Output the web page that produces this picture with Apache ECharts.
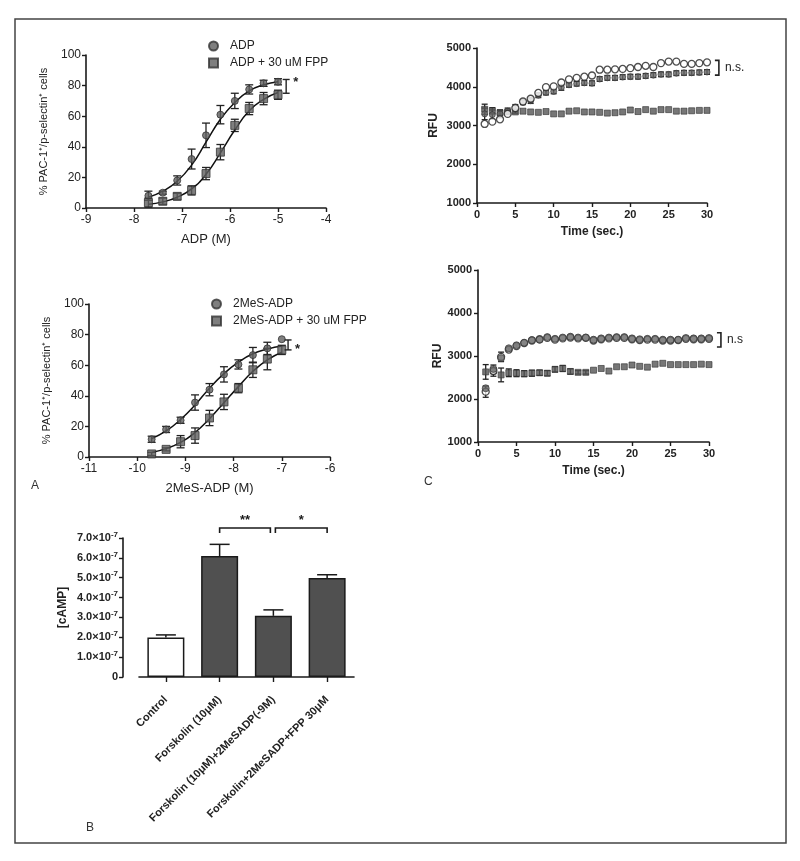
<!DOCTYPE html>
<html><head><meta charset="utf-8">
<script src="https://cdn.jsdelivr.net/npm/echarts@6/dist/echarts.min.js"></script>
<style>html,body{margin:0;padding:0;background:#fff}#c{width:800px;height:861px}</style>
</head><body><div id="c"></div>
<script>
const FONT = '"Liberation Sans", Arial, Helvetica, sans-serif';

// ---- Panel A (top): ADP dose-response ----
const adpLogConc = [-7.7, -7.4, -7.1, -6.8, -6.5, -6.2, -5.9, -5.6, -5.3, -5.0];
const adpMean    = [8, 10, 18, 32, 47.5, 61, 70, 77.5, 81.5, 82.5];
const adpSem     = [3, 1, 3, 6.5, 8, 6, 5, 3, 2, 2];
const adpFit     = [7, 11, 17.5, 28, 43, 58, 69, 76.5, 80.5, 82.5];      // fitted curve
const adpFppMean = [3.5, 4.4, 7.6, 11.5, 22.5, 36.5, 54, 65, 71.5, 74];
const adpFppSem  = [3, 2, 2, 3, 4, 5, 4, 4, 4, 3];
const adpFppFit  = [2.5, 4, 7, 12.5, 22, 36, 51, 63.5, 71, 75.5];
const adpXTicks  = [-9, -4, 1];
const pctYTicks  = [0, 100, 20];

// ---- Panel A (bottom): 2MeS-ADP dose-response ----
const mesLogConc = [-9.7, -9.4, -9.1, -8.8, -8.5, -8.2, -7.9, -7.6, -7.3, -7.0];
const mesMean    = [11.6, 18, 24, 35.6, 44, 54, 60.5, 66.6, 71, 77];
const mesSem     = [2, 2, 2, 5, 4, 5, 3, 5, 4, 0];
const mesFit     = [12, 17, 24.5, 34, 45, 54.5, 62, 67.5, 70.5, 72.5];
const mesFppMean = [2, 5, 10, 14, 25.5, 36, 45, 57, 64, 70];
const mesFppSem  = [1, 1, 4, 5, 5, 5, 3, 5, 7, 3];
const mesFppFit  = [3, 5.5, 9.5, 16, 25, 35.5, 46, 56, 63.5, 68.5];
const mesXTicks  = [-11, -6, 1];

// ---- Panel B: cAMP ----
const campCategories = ['Control', 'Forskolin (10μM)', 'Forskolin (10μM)+2MeSADP(-9M)', 'Forskolin+2MeSADP+FPP 30μM'];
const campMean = [1.99e-7, 6.09e-7, 3.08e-7, 4.98e-7];
const campSem  = [0.13e-7, 0.59e-7, 0.30e-7, 0.17e-7];
const campSig  = ['**', '*'];

// ---- Panel C: RFU time courses ----
const timeSec = [1,2,3,4,5,6,7,8,9,10,11,12,13,14,15,16,17,18,19,20,21,22,23,24,25,26,27,28,29,30];
const c1Open = [3040,3100,3160,3300,3450,3620,3690,3840,3990,4010,4110,4190,4230,4260,4290,4440,4440,4450,4460,4480,4510,4540,4510,4610,4650,4650,4590,4590,4610,4630];
const c1Fill = [3300,3280,3300,3370,3480,3600,3640,3780,3850,3880,3980,4050,4080,4100,4090,4200,4230,4230,4250,4260,4260,4280,4300,4320,4320,4350,4360,4360,4370,4380];
const c1FillSem = [150,120,100,80,60,60,70,60,60,60,70,60,60,60,60,60,60,60,60,60,60,60,60,60,60,60,60,60,60,60];
const c1Sq = [3420,3380,3330,3350,3350,3370,3350,3340,3360,3300,3300,3370,3380,3350,3350,3340,3320,3330,3350,3400,3360,3410,3370,3410,3410,3370,3370,3380,3390,3390];
const c1SqSem = [130,80,60,40,30,0,0,0,0,0,0,0,0,0,0,0,0,0,0,0,0,0,0,0,0,0,0,0,0,0];

const c2Fill = [2250,2700,2950,3180,3250,3310,3370,3380,3440,3400,3430,3450,3430,3430,3380,3410,3430,3440,3440,3410,3390,3400,3400,3380,3380,3380,3420,3410,3410,3420];
const c2Open = [2170,2650,2980,3150,3230,3300,3360,3390,3420,3380,3410,3430,3410,3420,3360,3390,3410,3420,3420,3390,3370,3380,3380,3360,3360,3370,3400,3390,3390,3400];
const c2OpenSem = [130,60,110,40,30,0,0,0,0,0,0,0,0,0,0,0,0,0,0,0,0,0,0,0,0,0,0,0,0,0];
const c2Sq = [2630,2660,2560,2610,2600,2590,2600,2610,2600,2690,2710,2640,2620,2620,2670,2710,2650,2750,2750,2790,2760,2740,2810,2830,2800,2800,2800,2800,2810,2800];
const c2SqSem = [170,130,160,90,80,70,70,60,60,60,70,60,40,40,0,0,0,0,0,0,0,0,0,0,0,0,0,0,0,0];
const rfuYTicks = [1000, 5000, 1000];
const timeXTicks = [0, 30, 5];

// ---------------- helpers ----------------
function pairs(xs, ys) { return xs.map((x, i) => [x, ys[i]]); }
function errData(xs, ys, es) { return xs.map((x, i) => [x, ys[i] - es[i], ys[i] + es[i]]); }
function errRender(cap, color, lw) {
  return function (params, api) {
    const x = api.value(0), lo = api.value(1), hi = api.value(2);
    if (!(hi > lo)) return null;
    const p1 = api.coord([x, lo]), p2 = api.coord([x, hi]);
    const s = { stroke: color || '#222', lineWidth: lw || 1.2 };
    return { type: 'group', children: [
      { type: 'line', shape: { x1: p1[0], y1: p1[1], x2: p2[0], y2: p2[1] }, style: s },
      { type: 'line', shape: { x1: p1[0] - cap, y1: p1[1], x2: p1[0] + cap, y2: p1[1] }, style: s },
      { type: 'line', shape: { x1: p2[0] - cap, y1: p2[1], x2: p2[0] + cap, y2: p2[1] }, style: s }
    ]};
  };
}
function errSeries(gi, data, cap, z) {
  return { type: 'custom', xAxisIndex: gi, yAxisIndex: gi, data: data, renderItem: errRender(cap, '#222', 1.3),
    encode: { x: 0, y: [1, 2] }, z: z || 3, silent: true, clip: false };
}
function sigISeries(gi, x, lo, hi, text, textDy) {
  return { type: 'custom', xAxisIndex: gi, yAxisIndex: gi, data: [[x, lo, hi]], silent: true, clip: false, z: 5,
    encode: { x: 0, y: [1, 2] },
    renderItem: function (params, api) {
      const p1 = api.coord([api.value(0), api.value(1)]), p2 = api.coord([api.value(0), api.value(2)]);
      const s = { stroke: '#222', lineWidth: 1.4 };
      return { type: 'group', children: [
        { type: 'line', shape: { x1: p1[0], y1: p1[1], x2: p2[0], y2: p2[1] }, style: s },
        { type: 'line', shape: { x1: p1[0] - 3.5, y1: p1[1], x2: p1[0] + 3.5, y2: p1[1] }, style: s },
        { type: 'line', shape: { x1: p2[0] - 3.5, y1: p2[1], x2: p2[0] + 3.5, y2: p2[1] }, style: s },
        { type: 'text', style: { text: text, x: p2[0] + 7, y: p2[1] + textDy, fill: '#222', font: 'bold 13px ' + FONT, textVerticalAlign: 'middle' } }
      ]};
    } };
}
function nsSeries(gi, x, lo, hi, text) {
  return { type: 'custom', xAxisIndex: gi, yAxisIndex: gi, data: [[x, lo, hi]], silent: true, clip: false, z: 5,
    encode: { x: 0, y: [1, 2] },
    renderItem: function (params, api) {
      const p1 = api.coord([api.value(0), api.value(1)]), p2 = api.coord([api.value(0), api.value(2)]);
      const s = { stroke: '#222', lineWidth: 1.6 };
      return { type: 'group', children: [
        { type: 'polyline', shape: { points: [[p1[0] - 4, p1[1]], [p1[0], p1[1]], [p2[0], p2[1]], [p2[0] - 4, p2[1]]] }, style: Object.assign({ fill: null }, s) },
        { type: 'text', style: { text: text, x: p1[0] + 6, y: (p1[1] + p2[1]) / 2, fill: '#222', font: '12px ' + FONT, textVerticalAlign: 'middle' } }
      ]};
    } };
}

const axisLineStyle = { show: true, lineStyle: { color: '#1a1a1a', width: 1.6 } };
const tickStyle = { show: true, length: 4, lineStyle: { color: '#1a1a1a', width: 1.4 } };
const plain = v => String(v);

function valAxis(gi, ticks, extra) {
  return Object.assign({ type: 'value', gridIndex: gi, min: ticks[0], max: ticks[1], interval: ticks[2],
    axisLine: axisLineStyle, axisTick: tickStyle, splitLine: { show: false } }, extra);
}

const markerA = { color: '#5f5f5f', borderColor: '#333', borderWidth: 1 };
function fitLine(gi, xs, ys) {
  return { type: 'line', xAxisIndex: gi, yAxisIndex: gi, data: pairs(xs, ys), smooth: 0.5, symbol: 'none',
    lineStyle: { color: '#111', width: 1.5 }, z: 3, silent: true };
}

const option = {
  animation: false,
  backgroundColor: '#fff',
  textStyle: { fontFamily: FONT },
  grid: [
    { left: 86, top: 55, width: 240, height: 153 },
    { left: 89, top: 304, width: 241, height: 153 },
    { left: 139, top: 538, width: 215, height: 139 },
    { left: 477, top: 48, width: 230, height: 155 },
    { left: 478, top: 270, width: 231, height: 172 }
  ],
  legend: [
    { orient: 'vertical', left: 203, top: 35, itemWidth: 9, itemHeight: 9, itemGap: 5, selectedMode: false,
      textStyle: { fontSize: 12, color: '#222', fontFamily: FONT, padding: [0, 0, 0, 7] },
      data: [{ name: 'ADP', icon: 'circle' }, { name: 'ADP + 30 uM FPP', icon: 'rect' }] },
    { orient: 'vertical', left: 206, top: 293, itemWidth: 9, itemHeight: 9, itemGap: 5, selectedMode: false,
      textStyle: { fontSize: 12, color: '#222', fontFamily: FONT, padding: [0, 0, 0, 7] },
      data: [{ name: '2MeS-ADP', icon: 'circle' }, { name: '2MeS-ADP + 30 uM FPP', icon: 'rect' }] }
  ],
  xAxis: [
    valAxis(0, adpXTicks, { name: 'ADP (M)', nameLocation: 'middle', nameGap: 25,
      nameTextStyle: { fontSize: 13, color: '#222' }, axisLabel: { fontSize: 12, color: '#222', margin: 6 } }),
    valAxis(1, mesXTicks, { name: '2MeS-ADP (M)', nameLocation: 'middle', nameGap: 25,
      nameTextStyle: { fontSize: 13, color: '#222' }, axisLabel: { fontSize: 12, color: '#222', margin: 6 } }),
    { type: 'category', gridIndex: 2, data: campCategories, offset: 14,
      axisLine: axisLineStyle, axisTick: { show: true, alignWithLabel: true, length: 5, lineStyle: { color: '#1a1a1a', width: 1.4 } },
      axisLabel: { rotate: 45, interval: 0, fontSize: 11, fontWeight: 'bold', color: '#222', margin: 7 } },
    valAxis(3, timeXTicks, { name: 'Time (sec.)', nameLocation: 'middle', nameGap: 23,
      nameTextStyle: { fontSize: 12, fontWeight: 'bold', color: '#222' }, axisLabel: { fontSize: 11, fontWeight: 'bold', color: '#222', margin: 6 } }),
    valAxis(4, timeXTicks, { name: 'Time (sec.)', nameLocation: 'middle', nameGap: 23,
      nameTextStyle: { fontSize: 12, fontWeight: 'bold', color: '#222' }, axisLabel: { fontSize: 11, fontWeight: 'bold', color: '#222', margin: 6 } })
  ],
  yAxis: [
    valAxis(0, pctYTicks, { name: '% PAC-1⁺/p-selectin⁺ cells', nameLocation: 'middle', nameGap: 37,
      nameTextStyle: { fontSize: 11, color: '#222' }, axisLabel: { fontSize: 12, color: '#222', margin: 5 } }),
    valAxis(1, pctYTicks, { name: '% PAC-1⁺/p-selectin⁺ cells', nameLocation: 'middle', nameGap: 37,
      nameTextStyle: { fontSize: 11, color: '#222' }, axisLabel: { fontSize: 12, color: '#222', margin: 5 } }),
    { type: 'value', gridIndex: 2, min: 0, max: 7e-7, interval: 1e-7, offset: 16,
      axisLine: axisLineStyle, axisTick: tickStyle, splitLine: { show: false },
      name: '[cAMP]', nameLocation: 'middle', nameGap: 54, nameTextStyle: { fontSize: 12, fontWeight: 'bold', color: '#222' },
      axisLabel: { margin: 5, color: '#222',
        formatter: function (v) { return v === 0 ? '{n|0}' : '{n|' + (v / 1e-7).toFixed(1) + '×10}{s|-7}'; },
        rich: { n: { fontSize: 11, fontWeight: 'bold', color: '#222', fontFamily: FONT },
                s: { fontSize: 8, fontWeight: 'bold', color: '#222', fontFamily: FONT, padding: [0, 0, 7, 0] } } } },
    valAxis(3, rfuYTicks, { name: 'RFU', nameLocation: 'middle', nameGap: 37,
      nameTextStyle: { fontSize: 12, fontWeight: 'bold', color: '#222' }, axisLabel: { fontSize: 11, fontWeight: 'bold', color: '#222', margin: 6, formatter: plain } }),
    valAxis(4, rfuYTicks, { name: 'RFU', nameLocation: 'middle', nameGap: 33,
      nameTextStyle: { fontSize: 12, fontWeight: 'bold', color: '#222' }, axisLabel: { fontSize: 11, fontWeight: 'bold', color: '#222', margin: 6, formatter: plain } })
  ],
  series: [
    // A top
    fitLine(0, adpLogConc, adpFit),
    fitLine(0, adpLogConc, adpFppFit),
    errSeries(0, errData(adpLogConc, adpMean, adpSem), 4),
    errSeries(0, errData(adpLogConc, adpFppMean, adpFppSem), 4),
    { name: 'ADP', type: 'scatter', xAxisIndex: 0, yAxisIndex: 0, data: pairs(adpLogConc, adpMean),
      symbol: 'circle', symbolSize: 7, itemStyle: markerA, z: 4 },
    { name: 'ADP + 30 uM FPP', type: 'scatter', xAxisIndex: 0, yAxisIndex: 0, data: pairs(adpLogConc, adpFppMean),
      symbol: 'rect', symbolSize: 8, itemStyle: markerA, z: 4 },
    sigISeries(0, -4.83, 75, 84, '*', 3),
    // A bottom
    fitLine(1, mesLogConc, mesFit),
    fitLine(1, mesLogConc, mesFppFit),
    errSeries(1, errData(mesLogConc, mesMean, mesSem), 4),
    errSeries(1, errData(mesLogConc, mesFppMean, mesFppSem), 4),
    { name: '2MeS-ADP', type: 'scatter', xAxisIndex: 1, yAxisIndex: 1, data: pairs(mesLogConc, mesMean),
      symbol: 'circle', symbolSize: 7, itemStyle: markerA, z: 4 },
    { name: '2MeS-ADP + 30 uM FPP', type: 'scatter', xAxisIndex: 1, yAxisIndex: 1, data: pairs(mesLogConc, mesFppMean),
      symbol: 'rect', symbolSize: 8, itemStyle: markerA, z: 4 },
    sigISeries(1, -6.87, 70, 76.5, '*', 9),
    // B bars
    { name: 'cAMP', type: 'bar', xAxisIndex: 2, yAxisIndex: 2, barWidth: 37,
      data: campMean.map((v, i) => ({ value: v, itemStyle: { color: i === 0 ? '#fff' : '#505050', borderColor: '#1a1a1a', borderWidth: 1.5 } })), z: 2 },
    { type: 'custom', xAxisIndex: 2, yAxisIndex: 2, silent: true, clip: false, z: 3,
      data: campMean.map((v, i) => [i, v, v + campSem[i]]),
      renderItem: function (params, api) {
        const p1 = api.coord([api.value(0), api.value(1)]), p2 = api.coord([api.value(0), api.value(2)]);
        const s = { stroke: '#1a1a1a', lineWidth: 1.5 };
        return { type: 'group', children: [
          { type: 'line', shape: { x1: p1[0], y1: p1[1], x2: p2[0], y2: p2[1] }, style: s },
          { type: 'line', shape: { x1: p2[0] - 10, y1: p2[1], x2: p2[0] + 10, y2: p2[1] }, style: s }
        ]};
      } },
    { type: 'custom', xAxisIndex: 2, yAxisIndex: 2, silent: true, clip: false, z: 3,
      data: [[1, 2, 7.5e-7], [2, 3, 7.5e-7]],
      renderItem: function (params, api) {
        const p1 = api.coord([api.value(0), api.value(2)]), p2 = api.coord([api.value(1), api.value(2)]);
        const x1 = p1[0] + (params.dataIndex === 0 ? 0 : 2), x2 = p2[0] - (params.dataIndex === 0 ? 3 : 0);
        const y = p1[1];
        return { type: 'group', children: [
          { type: 'polyline', shape: { points: [[x1, y + 5], [x1, y], [x2, y], [x2, y + 5]] }, style: { stroke: '#1a1a1a', lineWidth: 1.6, fill: null } },
          { type: 'text', style: { text: campSig[params.dataIndex], x: (x1 + x2) / 2, y: y - 1, fill: '#1a1a1a', font: 'bold 13px ' + FONT, textAlign: 'center', textVerticalAlign: 'bottom' } }
        ]};
      } },
    // C top
    { name: 'c1Sq', type: 'scatter', xAxisIndex: 3, yAxisIndex: 3, data: pairs(timeSec, c1Sq), symbol: 'rect', symbolSize: 6,
      itemStyle: { color: '#555', borderColor: '#333', borderWidth: 0.8 }, z: 3 },
    errSeries(3, errData(timeSec, c1Sq, c1SqSem), 3, 2),
    errSeries(3, errData(timeSec, c1Fill, c1FillSem), 3, 2),
    { name: 'c1Fill', type: 'scatter', xAxisIndex: 3, yAxisIndex: 3, data: pairs(timeSec, c1Fill), symbol: 'circle', symbolSize: 6,
      itemStyle: { color: '#666', borderColor: '#333', borderWidth: 0.8 }, z: 4 },
    { name: 'c1Open', type: 'scatter', xAxisIndex: 3, yAxisIndex: 3, data: pairs(timeSec, c1Open), symbol: 'circle', symbolSize: 7,
      itemStyle: { color: '#fff', borderColor: '#222', borderWidth: 1.3 }, z: 5 },
    nsSeries(3, 31.55, 4300, 4680, 'n.s.'),
    // C bottom
    errSeries(4, errData(timeSec, c2Sq, c2SqSem), 3, 2),
    { name: 'c2Sq', type: 'scatter', xAxisIndex: 4, yAxisIndex: 4, data: pairs(timeSec, c2Sq), symbol: 'rect', symbolSize: 6,
      itemStyle: { color: '#555', borderColor: '#333', borderWidth: 0.8 }, z: 3 },
    errSeries(4, errData(timeSec, c2Open, c2OpenSem), 3, 2),
    { name: 'c2Open', type: 'scatter', xAxisIndex: 4, yAxisIndex: 4, data: pairs(timeSec, c2Open), symbol: 'circle', symbolSize: 7,
      itemStyle: { color: '#fff', borderColor: '#222', borderWidth: 1.3 }, z: 4 },
    { name: 'c2Fill', type: 'scatter', xAxisIndex: 4, yAxisIndex: 4, data: pairs(timeSec, c2Fill), symbol: 'circle', symbolSize: 7,
      itemStyle: { color: '#666', borderColor: '#333', borderWidth: 0.8 }, z: 5 },
    nsSeries(4, 31.55, 3210, 3540, 'n.s')
  ],
  graphic: [
    { type: 'rect', shape: { x: 15, y: 19, width: 771, height: 824 }, style: { fill: null, stroke: '#444', lineWidth: 1.5 }, z: 0, silent: true },
    { type: 'text', left: 31, top: 480, style: { text: 'A', fill: '#333', font: '12px ' + FONT } },
    { type: 'text', left: 86, top: 822, style: { text: 'B', fill: '#333', font: '12px ' + FONT } },
    { type: 'text', left: 424, top: 476, style: { text: 'C', fill: '#333', font: '12px ' + FONT } }
  ]
};

const chart = echarts.init(document.getElementById('c'), null, { renderer: 'canvas' });
chart.setOption(option);
</script></body></html>
